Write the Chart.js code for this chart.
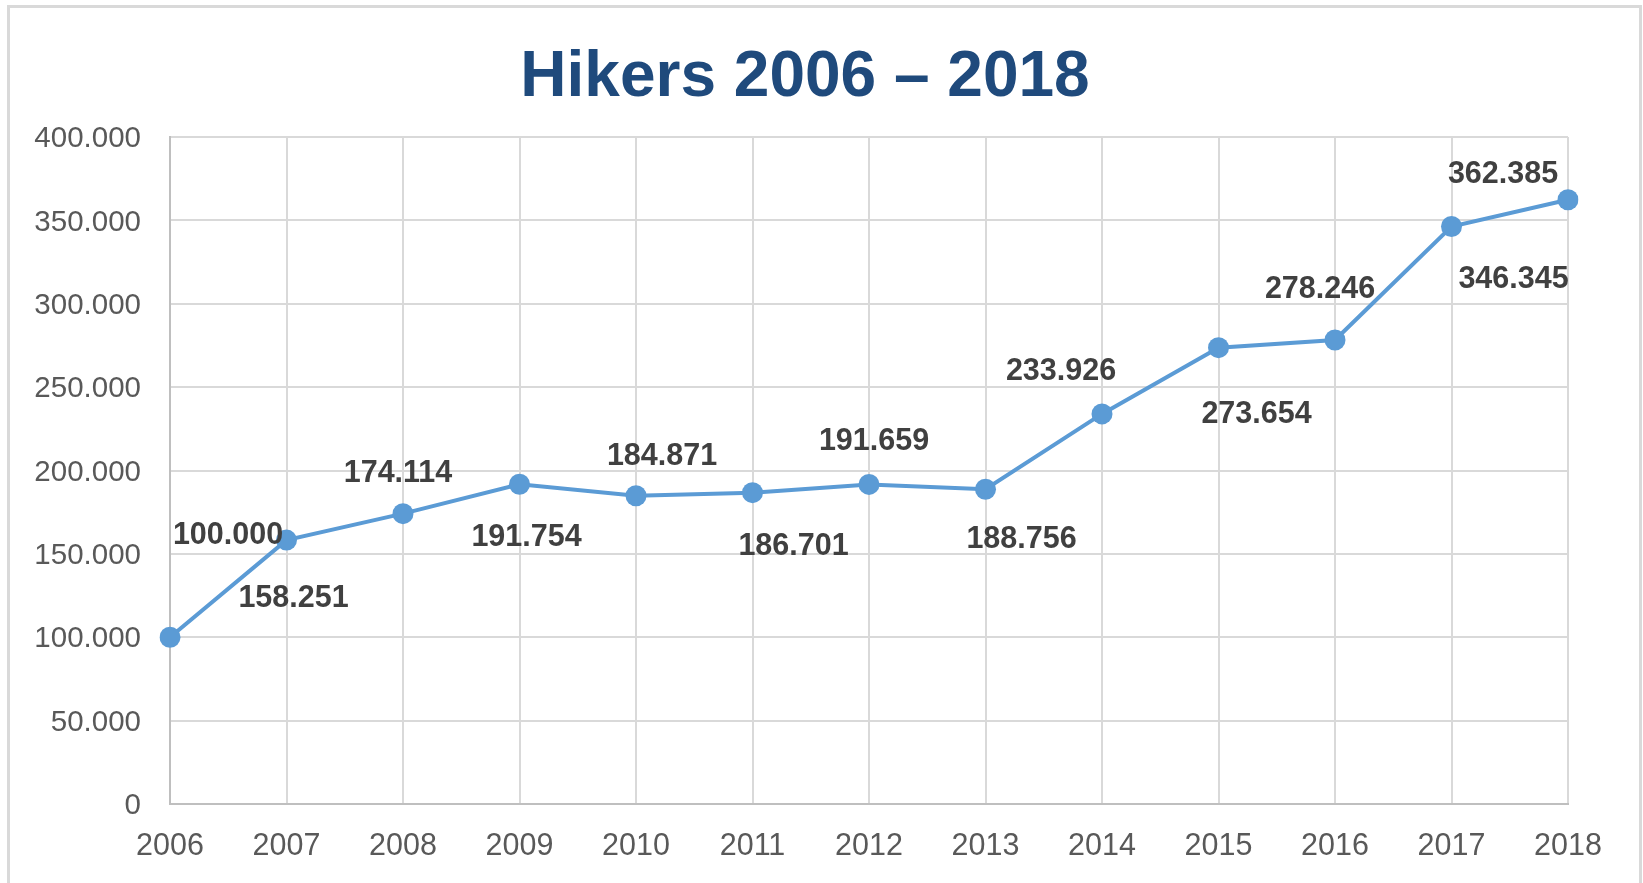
<!DOCTYPE html>
<html>
<head>
<meta charset="utf-8">
<script src="https://cdn.jsdelivr.net/npm/chart.js@4.4.1/dist/chart.umd.min.js"></script>
<style>
  html, body { margin: 0; padding: 0; background: #ffffff; }
  #wrap { width: 1643px; height: 883px; position: relative; }
  canvas { display: block; }
</style>
</head>
<body>
<div id="wrap"><canvas id="c" width="1643" height="883"></canvas></div>
<script>
// ---- data ----
const chartTitle = 'Hikers 2006 \u2013 2018';
const years = ['2006','2007','2008','2009','2010','2011','2012','2013','2014','2015','2016','2017','2018'];
const hikers = [100000, 158251, 174114, 191754, 184871, 186701, 191659, 188756, 233926, 273654, 278246, 346345, 362385];
const yTickLabels = ['0','50.000','100.000','150.000','200.000','250.000','300.000','350.000','400.000'];

// ---- style (label offsets relative to each point, in px) ----
const labelOffsets = [[58,-102],[7,58],[-5,-40],[7,53],[26,-39],[41,54],[5,-43],[36,50],[-41,-42],[38,67],[-15,-50],[62,53],[-65,-25]];

function fmt(v) {
  return String(v).replace(/\B(?=(\d{3})+(?!\d))/g, '.');
}

const framePlugin = {
  id: 'frame',
  beforeDraw(chart) {
    const ctx = chart.ctx;
    ctx.save();
    ctx.fillStyle = '#ffffff';
    ctx.fillRect(0, 0, chart.width, chart.height);
    ctx.strokeStyle = '#d9d9d9';
    ctx.lineWidth = 3;
    ctx.strokeRect(8.5, 6.5, 1632, 900);
    ctx.restore();
  },
  afterDraw(chart) {
    const ctx = chart.ctx;
    ctx.save();
    ctx.fillStyle = '#1F4A7C';
    ctx.font = 'bold 64px "Liberation Sans", Arial, sans-serif';
    ctx.textAlign = 'center';
    ctx.textBaseline = 'alphabetic';
    ctx.fillText(chartTitle, 805, 96);
    ctx.restore();
  }
};

const labelPlugin = {
  id: 'valueLabels',
  afterDatasetsDraw(chart) {
    const ctx = chart.ctx;
    const meta = chart.getDatasetMeta(0);
    ctx.save();
    ctx.fillStyle = '#404040';
    ctx.font = 'bold 30.5px "Liberation Sans", Arial, sans-serif';
    ctx.textAlign = 'center';
    ctx.textBaseline = 'middle';
    meta.data.forEach((pt, i) => {
      const off = labelOffsets[i] || [0, -40];
      ctx.fillText(fmt(hikers[i]), pt.x + off[0], pt.y + off[1]);
    });
    ctx.restore();
  }
};

new Chart(document.getElementById('c'), {
  type: 'line',
  data: {
    labels: years,
    datasets: [{
      data: hikers,
      borderColor: '#5B9BD5',
      backgroundColor: '#5B9BD5',
      borderWidth: 4,
      pointRadius: 10.5,
      pointHoverRadius: 10.5,
      pointBackgroundColor: '#5B9BD5',
      pointBorderColor: '#5B9BD5',
      pointBorderWidth: 0,
      tension: 0,
      fill: false
    }]
  },
  options: {
    responsive: false,
    animation: false,
    devicePixelRatio: 1,
    layout: { padding: { top: 137, left: 0, right: 75, bottom: 0 } },
    plugins: {
      legend: { display: false },
      title: { display: false },
      tooltip: { enabled: false }
    },
    scales: {
      x: {
        offset: false,
        grid: { color: '#d9d9d9', lineWidth: 2, drawTicks: false },
        border: { color: '#bfbfbf', width: 2 },
        ticks: {
          color: '#595959',
          font: { family: '"Liberation Sans", Arial, sans-serif', size: 30.5 },
          padding: 24,
          maxRotation: 0,
          autoSkip: false
        },
        afterFit(scale) { scale.height = 79; }
      },
      y: {
        min: 0,
        max: 400000,
        grid: { color: '#d9d9d9', lineWidth: 2, drawTicks: false },
        border: { color: '#bfbfbf', width: 2 },
        ticks: {
          stepSize: 50000,
          color: '#595959',
          font: { family: '"Liberation Sans", Arial, sans-serif', size: 29.5 },
          padding: 29,
          labelOffset: 2,
          callback: (v, i) => yTickLabels[i]
        },
        afterFit(scale) { scale.width = 170; }
      }
    }
  },
  plugins: [framePlugin, labelPlugin]
});
</script>
</body>
</html>
